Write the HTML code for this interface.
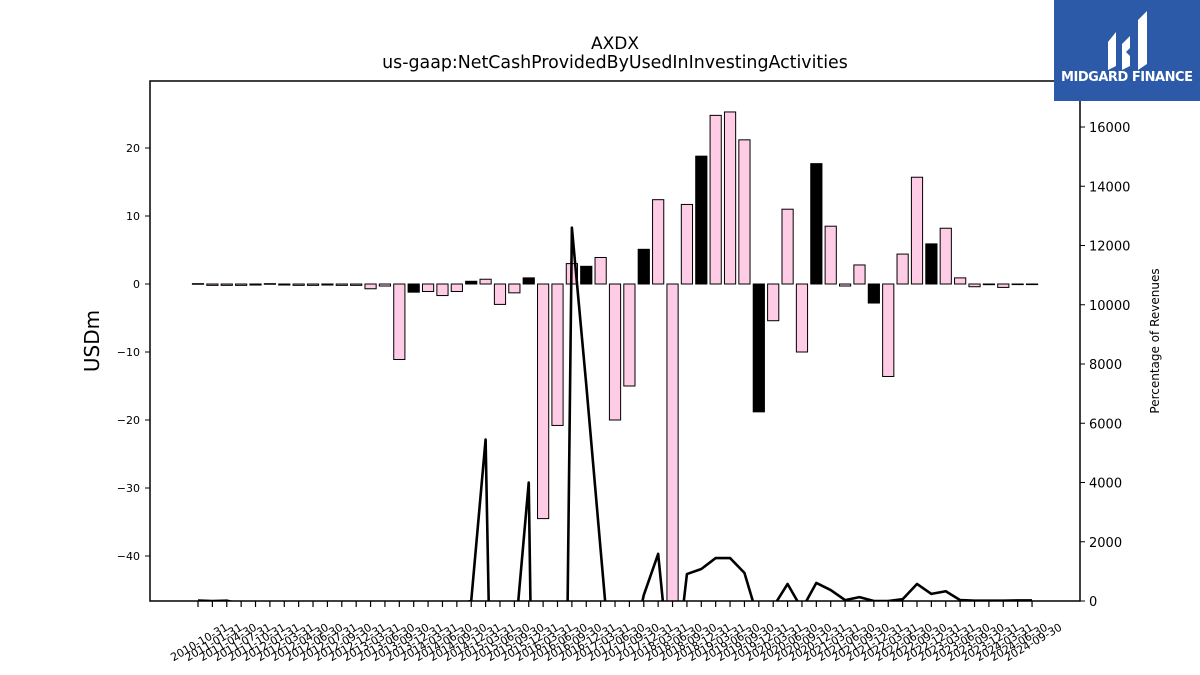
<!DOCTYPE html>
<html><head><meta charset="utf-8"><style>
body{margin:0;background:#fff;overflow:hidden;}
svg{display:block;font-family:"DejaVu Sans","Liberation Sans",sans-serif;}
</style></head><body>
<svg id="chart" width="1200" height="675" viewBox="0 0 1200 675" xmlns="http://www.w3.org/2000/svg">
<defs><clipPath id="plotclip"><rect x="150" y="81" width="930" height="520"/></clipPath></defs>
<rect x="0" y="0" width="1200" height="675" fill="#fff"/>
<text x="615" y="49" font-size="17" text-anchor="middle">AXDX</text>
<text x="615" y="68" font-size="17.4" text-anchor="middle">us-gaap:NetCashProvidedByUsedInInvestingActivities</text>
<text x="0" y="0" font-size="20" text-anchor="middle" transform="translate(99,341) rotate(-90)">USDm</text>
<text x="0" y="0" font-size="12" text-anchor="middle" transform="translate(1159,341) rotate(-90)">Percentage of Revenues</text>
<g id="bars" clip-path="url(#plotclip)"></g>
<g id="line" clip-path="url(#plotclip)"></g>
<rect x="150" y="81" width="930" height="520" fill="none" stroke="#000" stroke-width="1.5"/>
<g id="axes"></g>
<g>
<rect x="1054" y="0" width="146" height="101" fill="#2c5aa9"/>
<path d="M1108 42 L1116 32 L1116 66 L1108 70 Z" fill="#fff"/>
<path d="M1122 44 L1130 36 L1130 48 L1126 52 L1130 56 L1130 66 L1122 70 Z" fill="#fff"/>
<path d="M1138 20 L1147 11 L1147 64 L1138 70 Z" fill="#fff"/>
<text x="1127" y="81" font-size="13" font-weight="bold" fill="#fff" text-anchor="middle" font-family="DejaVu Sans, sans-serif" textLength="132">MIDGARD FINANCE</text>
</g>
</svg>
<script>
const categories = ["2010-10-31","2011-01-31","2011-04-30","2011-07-31","2011-10-31","2012-01-31","2012-03-31","2012-04-30","2012-06-30","2012-07-31","2012-09-30","2012-12-31",
"2013-03-31","2013-06-30","2013-09-30","2013-12-31","2014-03-31","2014-06-30","2014-09-30","2014-12-31","2015-03-31","2015-06-30","2015-09-30","2015-12-31",
"2016-03-31","2016-06-30","2016-09-30","2016-12-31","2017-03-31","2017-06-30","2017-09-30","2017-12-31","2018-03-31","2018-06-30","2018-09-30","2018-12-31",
"2019-03-31","2019-06-30","2019-09-30","2019-12-31","2020-03-31","2020-06-30","2020-09-30","2020-12-31","2021-03-31","2021-06-30","2021-09-30","2021-12-31",
"2022-03-31","2022-06-30","2022-09-30","2022-12-31","2023-03-31","2023-06-30","2023-09-30","2023-12-31","2024-03-31","2024-06-30","2024-09-30"];
const cashValues = [0.05,-0.2,-0.2,-0.2,-0.15,0.05,-0.15,-0.2,-0.2,-0.15,-0.2,-0.2,
-0.7,-0.3,-11.1,-1.2,-1.1,-1.7,-1.1,0.4,0.7,-3.0,-1.3,0.9,
-34.5,-20.8,3.0,2.6,3.9,-20.0,-15.0,5.1,12.4,-48,11.7,18.8,
24.8,25.3,21.2,-18.8,-5.4,11.0,-10.0,17.7,8.5,-0.3,2.8,-2.8,
-13.6,4.4,15.7,5.9,8.2,0.9,-0.4,-0.1,-0.5,-0.05,-0.05];
const darkBars = [15,19,23,27,31,35,39,43,47,51,55];
const pctValues = [15,0,10,-100,-100,-100,-100,-100,-100,-100,-100,-100,
-100,-100,-100,-100,-100,-100,-100,0,5450,-20000,-1500,4000,
-30000,-30000,12600,7300,1720,-3800,-2000,200,1590,-3300,910,1080,
1450,1450,950,-680,-200,575,-270,610,370,30,130,0,
0,60,575,240,330,30,10,10,10,20,20];
const leftTicks = [-40,-30,-20,-10,0,10,20];
const rightTicks = [0,2000,4000,6000,8000,10000,12000,14000,16000];

const NS="http://www.w3.org/2000/svg";
const xPos = i => 198 + i*14.38;
const yL = v => 284 - v*6.8;
const yR = v => 601 - v*0.029625;
function mk(tag, attrs, parent){const e=document.createElementNS(NS,tag);for(const k in attrs)e.setAttribute(k,attrs[k]);parent.appendChild(e);return e;}
const gb=document.getElementById('bars'), gl=document.getElementById('line'), ga=document.getElementById('axes');
cashValues.forEach((v,i)=>{
  const y0=yL(0), y1=yL(v);
  const r=mk('rect',{x:xPos(i)-5.6,y:Math.min(y0,y1),width:11.2,height:Math.max(Math.abs(y1-y0),0.6),fill:darkBars.includes(i)?'#000':'#ffcce6',stroke:'#000','stroke-width':1},gb);
  
  
});
const pl=mk('polyline',{points:pctValues.map((v,i)=>xPos(i)+','+yR(v)).join(' '),fill:'none',stroke:'#000','stroke-width':2.6,'stroke-linejoin':'round'},gl);


leftTicks.forEach(t=>{
  const y=yL(t);
  mk('line',{x1:145,x2:150,y1:y,y2:y,stroke:'#000','stroke-width':1},ga);
  const tx=mk('text',{x:140,y:y+4,'font-size':11,'text-anchor':'end'},ga);
  tx.textContent=(t<0?'\u2212'+(-t):t);
  
  
});
rightTicks.forEach(t=>{
  const y=yR(t);
  mk('line',{x1:1080,x2:1085,y1:y,y2:y,stroke:'#000','stroke-width':1},ga);
  const tx=mk('text',{x:1089,y:y+5,'font-size':13},ga);
  tx.textContent=t;
  
  
});
categories.forEach((c,i)=>{
  const x=xPos(i);
  mk('line',{x1:x,x2:x,y1:601,y2:607,stroke:'#000','stroke-width':1.2},ga);
  const tx=mk('text',{x:0,y:4,'font-size':11,'text-anchor':'middle',transform:'translate('+(x+1)+',642) rotate(-30)'},ga);
  tx.textContent=c;
  
  
});
</script>
</body></html>
